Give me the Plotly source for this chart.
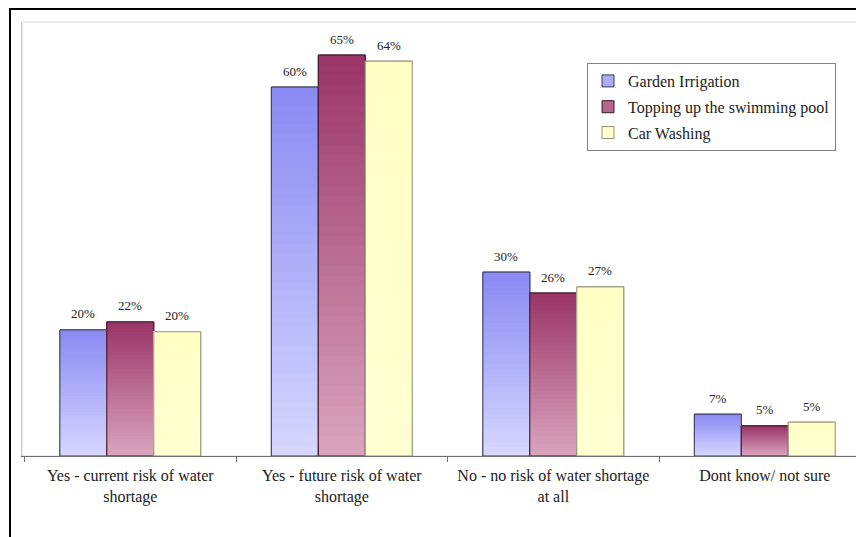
import plotly.graph_objects as go

# data
categories = [
    "Yes - current risk of water<br>shortage",
    "Yes - future risk of water<br>shortage",
    "No - no risk of water shortage<br>at all",
    "Dont know/ not sure",
]
series_names = ["Garden Irrigation", "Topping up the swimming pool", "Car Washing"]
garden = [20.5, 60.0, 29.9, 6.8]
pool = [21.8, 65.2, 26.5, 4.9]
car = [20.2, 64.2, 27.5, 5.5]
garden_labels = ["20%", "60%", "30%", "7%"]
pool_labels = ["22%", "65%", "26%", "5%"]
car_labels = ["20%", "64%", "27%", "5%"]

values = [garden, pool, car]
labels = [garden_labels, pool_labels, car_labels]

# gradient (top colour, bottom colour), outline colour
top_cols = [(0x88, 0x88, 0xf2), (0x99, 0x33, 0x66), (0xff, 0xff, 0xc4)]
bot_cols = [(0xd6, 0xd6, 0xff), (0xd9, 0xa3, 0xbd), (0xff, 0xff, 0xd2)]
line_cols = ["#3c3c5a", "#3a1a2a", "#8f8f78"]

FONT = "Liberation Serif"
FW, FH = 856, 529   # page body has an 8px margin, so the figure sits at (8, 8)
W = 0.222           # bar width in category units
N_STEPS = 40        # gradient slices


def px_x(x):
    return (x - 8) / FW


def px_y(y):
    return 1 - (y - 8) / FH


def mix(c1, c2, t):
    return "rgb(%d,%d,%d)" % tuple(round(a + (b - a) * t) for a, b in zip(c1, c2))


fig = go.Figure()

for i, name in enumerate(series_names):
    off = -1.5 * W + i * W
    vals = values[i]
    # base bar, also gives the legend swatch
    fig.add_trace(go.Bar(
        x=categories, y=vals, name=name, width=W, offset=off,
        marker=dict(color=mix(top_cols[i], bot_cols[i], 0.45),
                    line=dict(color=line_cols[i], width=1)),
        legendgroup=name, showlegend=True, hoverinfo="skip",
    ))
    # gradient slices, bottom (light) to top (dark)
    for k in range(N_STEPS):
        frac = k / N_STEPS
        fig.add_trace(go.Bar(
            x=categories,
            y=[v * (1 - frac) for v in vals],
            base=[v * frac for v in vals],
            width=W, offset=off,
            marker=dict(color=mix(bot_cols[i], top_cols[i], frac), line=dict(width=0)),
            showlegend=False, hoverinfo="skip",
        ))
    # outline on top
    fig.add_trace(go.Bar(
        x=categories, y=vals, width=W, offset=off,
        marker=dict(color="rgba(0,0,0,0)", line=dict(color=line_cols[i], width=1)),
        showlegend=False, hoverinfo="skip",
    ))
    for c, v, lab in zip(categories, vals, labels[i]):
        fig.add_annotation(
            x=c, y=v, text=lab, showarrow=False,
            xshift=(i - 1) * 47, yshift=16,
            font=dict(family=FONT, size=13, color="#222222"),
        )

# outer black frame of the original picture
fig.add_shape(type="rect", xref="paper", yref="paper",
              x0=px_x(10), x1=1.05, y0=-0.1, y1=px_y(9),
              line=dict(color="black", width=2), layer="above")
# light plot-area frame
fig.add_shape(type="rect", xref="paper", yref="paper",
              x0=px_x(22), x1=px_x(862), y0=px_y(456), y1=px_y(22),
              line=dict(color="#d8d8d8", width=1), layer="below")

fig.update_layout(
    width=FW, height=FH,
    margin=dict(l=0, r=0, t=0, b=0),
    paper_bgcolor="white", plot_bgcolor="white",
    barmode="overlay",
    font=dict(family=FONT, color="black", size=16),
    legend=dict(
        x=px_x(587), y=px_y(63), xanchor="left", yanchor="top",
        bgcolor="white", bordercolor="#808080", borderwidth=1,
        font=dict(family=FONT, size=16, color="#222222"),
        tracegroupgap=2, itemwidth=30,
    ),
    xaxis=dict(
        domain=[px_x(22), 1],
        range=[-0.512, 3.469],
        showline=True, linecolor="#707070", linewidth=1,
        ticks="outside", tickson="boundaries", ticklen=5, tickcolor="#707070",
        ticklabelstandoff=5,
        showgrid=False, tickfont=dict(family=FONT, size=16, color="#222222"),
    ),
    yaxis=dict(
        domain=[px_y(456), px_y(22)],
        range=[0, 70.57],
        showline=True, linecolor="#c8c8c8", linewidth=1,
        showticklabels=False, showgrid=False, zeroline=False, ticks="",
    ),
)

fig.write_html("out.html")
